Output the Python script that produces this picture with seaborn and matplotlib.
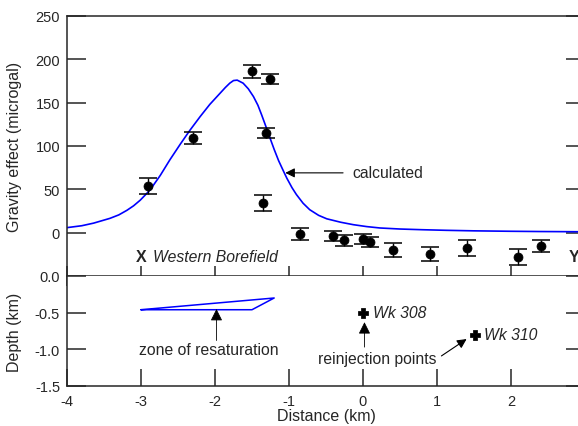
import numpy as np
import pandas as pd
import matplotlib
matplotlib.use("Agg")
import matplotlib.pyplot as plt
import seaborn as sns

# observed gravity change, with error bars
obs_x = [-2.90, -2.30, -1.50, -1.25, -1.31, -1.35, -0.85, -0.40, -0.25, 0.00, 0.09, 0.41, 0.90, 1.40, 2.10, 2.41]
obs_y = [54, 109, 186, 177, 115, 34, -2, -4, -9, -7, -11, -20, -25, -18, -28, -15]
obs_err = [9, 7, 8, 6, 6, 9, 7, 6, 6, 6, 6, 8, 8, 9, 9, 7]

# calculated curve
calc_x = [-4.00, -3.80, -3.64, -3.42, -3.30, -3.19, -3.10, -3.01, -2.88, -2.74, -2.61, -2.47,
          -2.34, -2.20, -2.07, -1.93, -1.86, -1.80, -1.75, -1.70, -1.62, -1.55, -1.48, -1.42,
          -1.37, -1.31, -1.26, -1.20, -1.14, -1.08, -1.03, -0.96, -0.90, -0.81, -0.72, -0.60,
          -0.49, -0.30, -0.13, 0.05, 0.23, 0.50, 0.80, 1.13, 1.50, 2.00, 2.40, 2.84, 3.00]
calc_y = [5.8, 8.0, 11.0, 16.5, 20.5, 25.8, 31.0, 37.5, 49.0, 66.0, 84.0, 102.0,
          118.0, 134.0, 148.0, 161.0, 167.5, 172.5, 175.5, 176.0, 172.5, 166.0, 157.0, 147.0,
          136.0, 122.0, 110.0, 96.0, 83.0, 72.0, 63.0, 52.0, 44.0, 34.0, 26.5, 20.0,
          16.0, 12.0, 9.2, 7.0, 5.4, 4.2, 3.4, 2.7, 2.1, 1.6, 1.3, 1.1, 1.0]

# zone of resaturation outline (distance, depth)
zone_x = [-3.0, -1.5, -1.2, -3.0]
zone_z = [-0.46, -0.46, -0.30, -0.46]

# reinjection wells
wells = ["Wk 308", "Wk 310"]
wells_x = [0.0, 1.51]
wells_z = [-0.50, -0.80]

sns.set_style("ticks")
plt.rcParams["font.family"] = ["Liberation Sans", "DejaVu Sans"]
plt.rcParams["axes.linewidth"] = 1.1

fig = plt.figure(figsize=(5.78, 4.27), dpi=100)
ax1 = fig.add_axes([0.1159, 0.3513, 0.8962, 0.6089])
ax2 = fig.add_axes([0.1159, 0.0937, 0.8962, 0.2576])

# --- top panel: gravity
sns.lineplot(x=calc_x, y=calc_y, ax=ax1, color="#0000ff", linewidth=1.2,
             sort=False, estimator=None)
ax1.errorbar(obs_x, obs_y, yerr=obs_err, fmt="none", ecolor="black",
             elinewidth=1.0, capsize=6.5, capthick=1.1)
sns.scatterplot(x=obs_x, y=obs_y, ax=ax1, color="black", s=42, edgecolor="black", zorder=5)

ax1.set_xlim(-4, 3)
ax1.set_ylim(-50, 250)
ax1.set_yticks([0, 50, 100, 150, 200, 250])
ax1.set_xticks([-4, -3, -2, -1, 0, 1, 2])
ax1.tick_params(axis="y", direction="in", length=14, width=1.1, labelsize=10.5,
                right=True, pad=5)
ax1.tick_params(axis="x", direction="inout", length=15, width=1.1, labelbottom=False,
                top=False)
ax1.spines["right"].set_visible(False)
ax1.set_ylabel("Gravity effect (microgal)", fontsize=11.5)
ax1.yaxis.set_label_coords(-0.087, 0.5)

ax1.annotate("calculated", xy=(-1.05, 69), xytext=(-0.15, 69),
             fontsize=11.3, va="center", ha="left",
             arrowprops=dict(arrowstyle="-|>", color="black", lw=0.8,
                             mutation_scale=14, shrinkA=4, shrinkB=0))
ax1.text(-3.0, -27, "X", fontsize=11.5, fontweight="bold", ha="center", va="center")
ax1.text(-2.84, -28, "Western Borefield", fontsize=11.3, style="italic", ha="left", va="center")
ax1.text(2.85, -27, "Y", fontsize=11.5, fontweight="bold", ha="center", va="center")

# --- bottom panel: depth section
sns.lineplot(x=zone_x, y=zone_z, ax=ax2, color="#0000ff", linewidth=1.1,
             sort=False, estimator=None)
sns.scatterplot(x=wells_x, y=wells_z, ax=ax2, marker="P", s=45, color="black",
                edgecolor="black", zorder=5)
for name, wx, wz in zip(wells, wells_x, wells_z):
    ax2.text(wx + 0.13, wz, name, fontsize=11.3, style="italic", ha="left", va="center")

ax2.annotate("", xy=(-1.98, -0.45), xytext=(-1.98, -0.88),
             arrowprops=dict(arrowstyle="-|>", color="black", lw=0.6,
                             mutation_scale=18, shrinkA=0, shrinkB=0))
ax2.text(-2.09, -1.0, "zone of resaturation", fontsize=11.3, ha="center", va="center")

ax2.annotate("", xy=(0.02, -0.63), xytext=(0.02, -0.97),
             arrowprops=dict(arrowstyle="-|>", color="black", lw=0.6,
                             mutation_scale=18, shrinkA=0, shrinkB=0))
ax2.annotate("", xy=(1.40, -0.86), xytext=(1.06, -1.09),
             arrowprops=dict(arrowstyle="-|>", color="black", lw=0.8,
                             mutation_scale=14, shrinkA=0, shrinkB=0))
ax2.text(0.19, -1.13, "reinjection points", fontsize=11.3, ha="center", va="center")

ax2.set_xlim(-4, 3)
ax2.set_ylim(-1.5, 0)
ax2.set_xticks([-4, -3, -2, -1, 0, 1, 2])
ax2.set_yticks([0.0, -0.5, -1.0, -1.5])
ax2.set_yticklabels(["0.0", "-0.5", "-1.0", "-1.5"])
ax2.set_xticklabels(["-4", "-3", "-2", "-1", "0", "1", "2"])
ax2.tick_params(axis="y", direction="in", length=14, width=1.1, labelsize=10.5,
                right=True, pad=5)
ax2.tick_params(axis="x", direction="in", length=12, width=1.1, labelsize=10.5, pad=6)
ax2.spines["right"].set_visible(False)
ax2.spines["top"].set_visible(False)
ax2.set_ylabel("Depth (km)", fontsize=11.5)
ax2.yaxis.set_label_coords(-0.087, 0.5)
ax2.set_xlabel("Distance (km)", fontsize=11.5, labelpad=0)

fig.savefig("out.png", dpi=100)
